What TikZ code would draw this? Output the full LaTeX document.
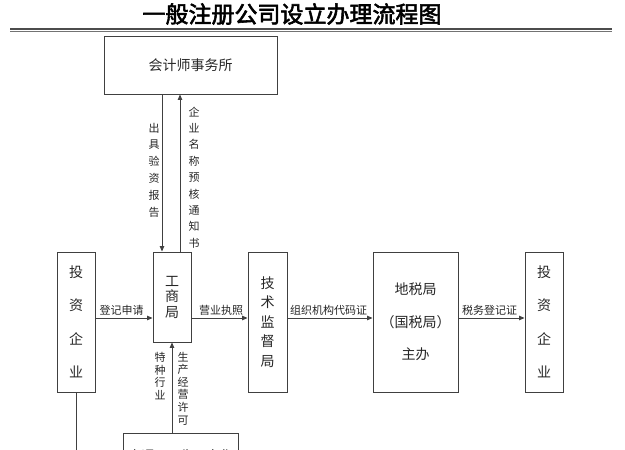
\documentclass[tikz,border=0pt]{standalone}
\usepackage{fontspec}
\newfontfamily\cjk[AutoFakeBold=2.5]{Noto Sans CJK SC}
\usetikzlibrary{arrows.meta}
\begin{document}
\begin{tikzpicture}[x=1pt,y=-1pt,
  box/.style={draw=black!75, line width=0.9pt, inner sep=0pt, align=center, text=black!85},
  conn/.style={draw=black!75, line width=0.9pt},
  arr/.style={conn, -{Triangle[length=5.5pt,width=4.5pt]}},
  lbl/.style={font=\cjk\fontsize{11}{12}\selectfont, text=black!85, inner sep=0pt},
  vlbl/.style={lbl, align=center}
]
\useasboundingbox (0,0) rectangle (625,450);
\clip (0,0) rectangle (625,450);

% title
\node[font=\cjk\bfseries\fontsize{23}{24}\selectfont, inner sep=0pt] (title) at (292,14) {一般注册公司设立办理流程图};
\coordinate (hl1) at (10,28.8); \coordinate (hr1) at (612,28.8);
\coordinate (hl2) at (10,31.6); \coordinate (hr2) at (612,31.6);
\draw[line width=1.8pt, black!70] (hl1) -- (hr1);
\draw[line width=0.6pt, black!55] (hl2) -- (hr2);

% boxes
\node[box, minimum width=173pt, minimum height=58pt, font=\cjk\fontsize{14}{16}\selectfont] (kj) at (190.5,65) {会计师事务所};
\node[box, minimum width=38pt, minimum height=90pt, font=\cjk\fontsize{14}{15.5}\selectfont] (gs) at (172,297) {工\\商\\局};
\node[box, minimum width=38pt, minimum height=140pt, font=\cjk\fontsize{14}{33.5}\selectfont] (tz1) at (76,322) {投\\资\\企\\业};
\node[box, minimum width=39pt, minimum height=140pt, font=\cjk\fontsize{14}{19.5}\selectfont] (js) at (267.5,322) {技\\术\\监\\督\\局};
\node[box, minimum width=85pt, minimum height=140pt, font=\cjk\fontsize{14}{32.5}\selectfont] (ds) at (415.5,322) {地税局\\（国税局）\\主办};
\node[box, minimum width=38pt, minimum height=140pt, font=\cjk\fontsize{14}{33.5}\selectfont] (tz2) at (544,322) {投\\资\\企\\业};
\node[box, minimum width=115pt, minimum height=46pt, font=\cjk\fontsize{13}{15}\selectfont] (bb) at (180.5,456) {交通、卫生、文化};

% helper coordinates
\coordinate (xd) at (162,0);
\coordinate (xu) at (180,0);
\coordinate (ya) at (0,318);
\coordinate (tzend) at (76,470);

% connectors
\draw[arr] (kj.south -| xd) -- (gs.north -| xd);
\draw[arr] (gs.north -| xu) -- (kj.south -| xu);
\draw[arr] (tz1.east |- ya) -- (gs.west |- ya);
\draw[arr] (gs.east |- ya) -- (js.west |- ya);
\draw[arr] (js.east |- ya) -- (ds.west |- ya);
\draw[arr] (ds.east |- ya) -- (tz2.west |- ya);
\draw[arr] (bb.north -| gs.south) -- (gs.south);
\draw[conn] (tz1.south) -- (tzend);

% labels
\node[lbl] (l1) at (121.5,310) {登记申请};
\node[lbl] (l2) at (221,310) {营业执照};
\node[lbl] (l3) at (328.5,310) {组织机构代码证};
\node[lbl] (l4) at (489.5,310) {税务登记证};
\node[vlbl, font=\cjk\fontsize{11}{16.8}\selectfont] (v1) at (154,170) {出\\具\\验\\资\\报\\告};
\node[vlbl, font=\cjk\fontsize{11}{16.4}\selectfont] (v2) at (194,177.5) {企\\业\\名\\称\\预\\核\\通\\知\\书};
\node[vlbl, font=\cjk\fontsize{11}{12.7}\selectfont] (v3) at (160,376) {特\\种\\行\\业};
\node[vlbl, font=\cjk\fontsize{11}{12.6}\selectfont] (v4) at (183,388.5) {生\\产\\经\\营\\许\\可};
\end{tikzpicture}
\end{document}
